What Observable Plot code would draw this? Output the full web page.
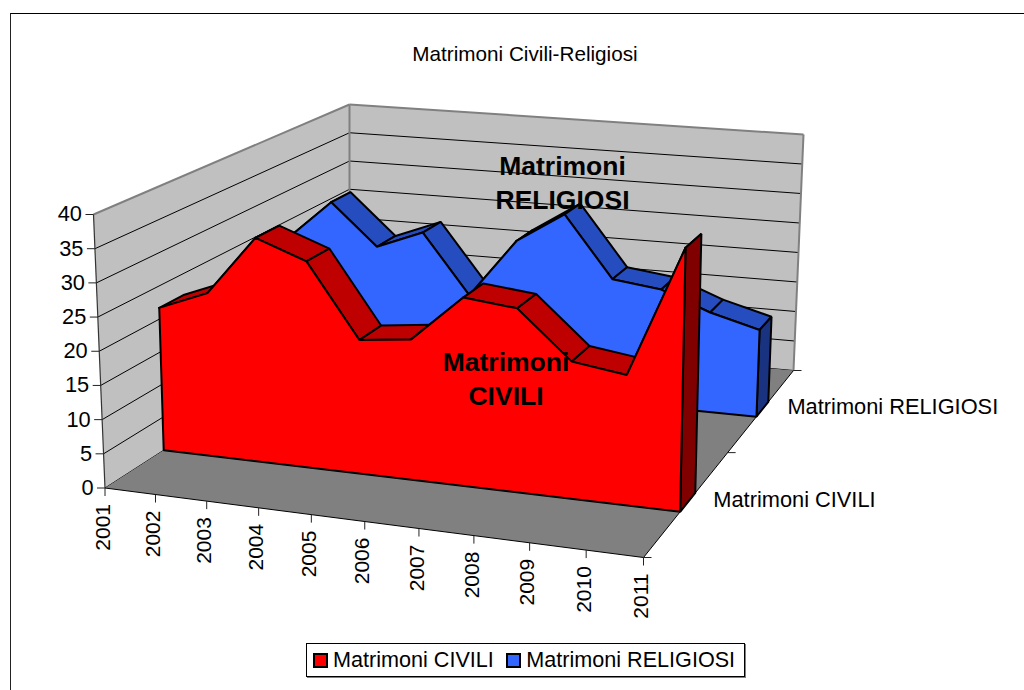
<!DOCTYPE html>
<html>
<head>
<meta charset="utf-8">
<script src="https://cdn.jsdelivr.net/npm/d3@7"></script>
<script src="https://cdn.jsdelivr.net/npm/@observablehq/plot@0.6"></script>
<style>
html,body{margin:0;padding:0;background:#fff;width:1024px;height:690px;overflow:hidden;font-family:"Liberation Sans",Arial,sans-serif;color:#000}
#frame{position:absolute;left:10px;top:13px;width:1014px;height:677px;border-top:1px solid #000;border-left:1px solid #222;box-sizing:border-box;pointer-events:none}
#title{height:88px;box-sizing:border-box;padding-top:42px;text-align:center;font-size:20.7px;line-height:24px;padding-left:26px}
#chart{height:552px}
#legend{position:absolute;left:306px;top:643px;width:439px;height:34px;box-sizing:border-box;border:1px solid #000;box-shadow:1px 1px 0 #808080;display:flex;align-items:center;font-size:21.6px;background:#fff;white-space:nowrap}
#legend .sw{display:inline-block;width:15px;height:15px;border:2px solid #000;box-sizing:border-box;margin-right:5px}
</style>
</head>
<body>
<div id="frame"></div>
<div id="title">Matrimoni Civili-Religiosi</div>
<div id="chart"></div>
<div id="legend"></div>
<script>
const years = [2001,2002,2003,2004,2005,2006,2007,2008,2009,2010,2011];
const civili = [21.7,24.7,33.8,31.0,20.0,20.9,27.9,27.1,20.1,19.0,38.3];
const religiosi = [22.0,28.8,22.0,25.0,15.3,24.9,29.9,20.0,19.0,16.0,13.9];
const valueTicks = [0,5,10,15,20,25,30,35,40];
const seriesNames = ["Matrimoni CIVILI","Matrimoni RELIGIOSI"];

const FONT = "Liberation Sans, Arial, sans-serif";
const VMAX = 40;
// camera: corners of the chart box in the picture (floor and ceiling)
const floorQuad = [[104.5,487.5],[643,557],[793,370],[349,330]];
const topQuad   = [[93,214],[646.5,269],[803,134],[349,104]];
function homography(q){
  const [[x0,y0],[x1,y1],[x2,y2],[x3,y3]] = q;
  const dx1=x1-x2,dx2=x3-x2,dx3=x0-x1+x2-x3,dy1=y1-y2,dy2=y3-y2,dy3=y0-y1+y2-y3;
  const den=dx1*dy2-dx2*dy1;
  const g=(dx3*dy2-dx2*dy3)/den,h=(dx1*dy3-dx3*dy1)/den;
  const a=x1-x0+g*x1,b=x3-x0+h*x3,d=y1-y0+g*y1,e=y3-y0+h*y3;
  return (u,w)=>{const s=g*u+h*w+1;return [(a*u+b*w+x0)/s,(d*u+e*w+y0)/s];};
}
const hF=homography(floorQuad),hT=homography(topQuad);
// u: year position 0..1, v: value, w: depth 0..1
function P(u,v,w){
  const a=hF(u,w),b=hT(u,w),t=v/VMAX;
  return {x:a[0]+(b[0]-a[0])*t,y:a[1]+(b[1]-a[1])*t};
}
// the year axis is slightly less foreshortened than the pure camera model
const U=i=>{const u=i/(years.length-1);return u+0.04*u*(1-u);};

function poly(pts,fill,stroke,sw){
  const closed=[...pts,pts[0]];
  return Plot.line(closed,{x:"x",y:"y",fill,stroke:stroke||"none",strokeWidth:sw||0,strokeLinejoin:"miter",strokeLinecap:"square",curve:"linear"});
}
function seg(a,b,stroke,sw){
  return Plot.line([a,b],{x:"x",y:"y",stroke,strokeWidth:sw,strokeLinecap:"butt"});
}
function areaMarks(vals,w0,w1,cFront,cTop,cSide){
  const m=[];
  const sw=2;
  // top faces
  for(let i=0;i<vals.length-1;i++){
    m.push(poly([P(U(i),vals[i],w0),P(U(i+1),vals[i+1],w0),P(U(i+1),vals[i+1],w1),P(U(i),vals[i],w1)],cTop,"#000",sw));
  }
  // right end cap
  const n=vals.length-1;
  m.push(poly([P(1,vals[n],w0),P(1,vals[n],w1),P(1,0,w1),P(1,0,w0)],cSide,"#000",sw));
  // front face
  const front=vals.map((v,i)=>P(U(i),v,w0));
  m.push(poly([...front,P(1,0,w0),P(0,0,w0)],cFront,"#000",sw));
  return m;
}

const marks=[];
// walls
marks.push(poly([P(0,0,0),P(0,VMAX,0),P(0,VMAX,1),P(0,0,1)],"#c0c0c0"));
marks.push(poly([P(0,0,1),P(0,VMAX,1),P(1,VMAX,1),P(1,0,1)],"#c0c0c0"));
// gridlines
for(const v of valueTicks.slice(0,-1)){
  marks.push(seg(P(0,v,0),P(0,v,1),"#000",1));
  marks.push(seg(P(0,v,1),P(1,v,1),"#000",1));
}
// wall edges
marks.push(seg(P(0,VMAX,0),P(0,VMAX,1),"#808080",2));
marks.push(seg(P(0,VMAX,1),P(1,VMAX,1),"#808080",2));
marks.push(seg(P(0,VMAX,1),P(0,0,1),"#808080",2));
marks.push(seg(P(1,VMAX,1),P(1,0,1),"#808080",2));
marks.push(seg(P(0,VMAX,0),P(0,0,0),"#333",1.2));
// floor
marks.push(poly([P(0,0,0),P(1,0,0),P(1,0,1),P(0,0,1)],"#808080"));
marks.push(seg(P(0,0,0),P(1,0,0),"#000",1));
marks.push(seg(P(1,0,0),P(1,0,1),"#000",1));
// value ticks + labels
for(const v of valueTicks){
  const p=P(0,v,0);
  marks.push(seg({x:p.x-8,y:p.y},p,"#222",1));
}
marks.push(Plot.text(valueTicks,{x:v=>P(0,v,0).x-11.5,y:v=>P(0,v,0).y,text:v=>String(v),textAnchor:"end",fontSize:21.8,fontFamily:FONT,fill:"#000"}));
// year ticks + labels
years.forEach((yr,i)=>{
  const p=P(U(i),0,0);
  marks.push(seg(p,{x:p.x,y:p.y+8},"#222",1));
});
marks.push(Plot.text(years,{x:(d,i)=>P(U(i),0,0).x-2,y:(d,i)=>P(U(i),0,0).y+16,text:d=>String(d),rotate:-90,textAnchor:"end",fontSize:21,fontFamily:FONT,fill:"#000"}));
// depth ticks
for(const w of [0,0.5,1]){
  const p=P(1,0,w);
  marks.push(seg(p,{x:p.x+8,y:p.y},"#222",1));
}
// series
const W=[[0.202,0.292],[0.705,0.795]];
marks.push(...areaMarks(religiosi,W[1][0],W[1][1],"#3366ff","#264dbf","#1a3380"));
marks.push(...areaMarks(civili,W[0][0],W[0][1],"#ff0000","#bf0000","#800000"));
// depth labels
marks.push(Plot.text(seriesNames,{x:(d,i)=>P(1,0,i?0.75:0.25).x+25,y:(d,i)=>P(1,0,i?0.75:0.25).y-2,text:d=>d,textAnchor:"start",fontSize:21.8,fontFamily:FONT,fill:"#000"}));
// series annotations
marks.push(Plot.text(["Matrimoni\nCIVILI"],{x:()=>505.5,y:()=>377,text:d=>d,fontSize:26.5,lineHeight:1.28,fontWeight:"bold",fontFamily:FONT,fill:"#000"}));
marks.push(Plot.text(["Matrimoni\nRELIGIOSI"],{x:()=>562,y:()=>181,text:d=>d,fontSize:26.5,lineHeight:1.28,fontWeight:"bold",fontFamily:FONT,fill:"#000"}));

const chart=Plot.plot({
  width:1024,height:552,margin:0,
  x:{domain:[0,1024],range:[0,1024],axis:null},
  y:{domain:[88,640],range:[0,552],axis:null},
  style:{background:"transparent",overflow:"visible"},
  marks
});
document.getElementById("chart").append(chart);

const legendColors=["#ff0000","#3366ff"];
const legend=document.getElementById("legend");
seriesNames.forEach((n,i)=>{
  const s=document.createElement("span");s.className="sw";s.style.background=legendColors[i];s.style.marginLeft=i?"12.5px":"6px";
  const t=document.createElement("span");t.textContent=n;
  legend.append(s,t);
});
</script>
</body>
</html>
